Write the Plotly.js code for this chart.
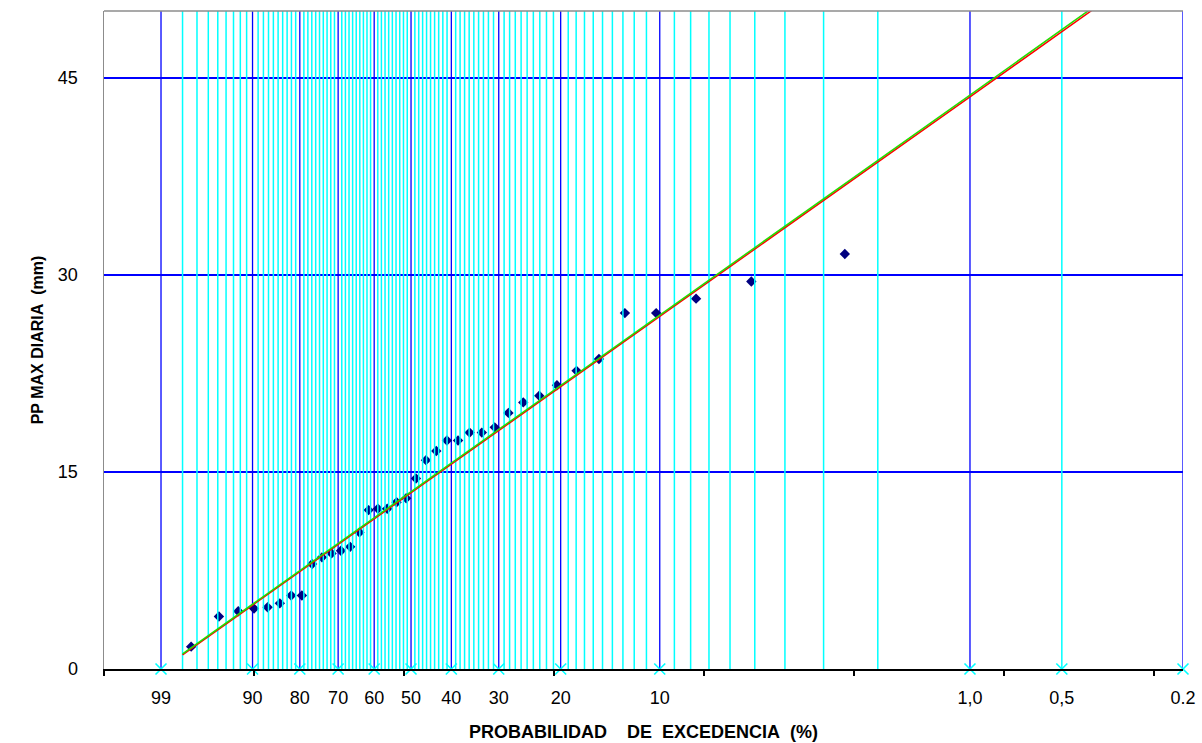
<!DOCTYPE html>
<html>
<head>
<meta charset="utf-8">
<script src="https://cdn.plot.ly/plotly-3.0.1.min.js"></script>
<style>html,body{margin:0;padding:0;background:#fff;}#chart{width:1202px;height:743px;}</style>
</head>
<body>
<div id="chart"></div>
<script>
const exceedProb = [2.56, 5.13, 7.69, 10.26, 12.82, 15.38, 17.95, 20.51, 23.08, 25.64,
  28.21, 30.77, 33.33, 35.90, 38.46, 41.03, 43.59, 46.15, 48.72, 51.28,
  53.85, 56.41, 58.97, 61.54, 64.10, 66.67, 69.23, 71.79, 74.36, 76.92,
  79.49, 82.05, 84.62, 87.18, 89.74, 92.31, 94.87, 97.44];
// PP MAX DIARIA (mm)
const ppMax = [31.6, 29.5, 28.2, 27.1, 27.1, 23.6, 22.7, 21.6, 20.8, 20.3,
  19.5, 18.4, 18.0, 18.0, 17.4, 17.4, 16.6, 15.9, 14.5, 13.0,
  12.7, 12.2, 12.2, 12.1, 10.4, 9.3, 9.0, 8.8, 8.5, 8.0,
  5.6, 5.6, 5.0, 4.7, 4.6, 4.4, 4.0, 1.7];

// Fitted lines (values at given exceedance probabilities)
const fitProb = [98, 50, 10, 1, 0.3];
const fitGreen = [1.15, 13.52, 26.95, 43.70, 52.35];
const fitRed = [1.08, 13.44, 26.85, 43.56, 52.18];

// Tick labels on the probability axis
const labelProb = [99, 90, 80, 70, 60, 50, 40, 30, 20, 10, 1, 0.5, 0.2];
const labelText = ['99', '90', '80', '70', '60', '50', '40', '30', '20', '10', '1,0', '0,5', '0.2'];

// Probability paper grid lines
const majorGridProb = [99, 90, 80, 70, 60, 50, 40, 30, 20, 10, 1, 0.2];
const minorGridProb = [];
for (let p = 98; p >= 2; p--) { if (p % 10 !== 0) minorGridProb.push(p); }
minorGridProb.push(0.5);

// Gumbel reduced variate for exceedance probability (%)
const gum = p => -Math.log(-Math.log(1 - p / 100));

const yMax = 50.1;
const xRange = [-1.959, gum(0.2)];

function vlines(probs) {
  const xs = [], ys = [];
  probs.forEach(p => { const g = gum(p); xs.push(g, g, null); ys.push(0, yMax, null); });
  return {x: xs, y: ys};
}
const maj = vlines(majorGridProb);
const mnr = vlines(minorGridProb);

const font = 'Liberation Sans, Arial, sans-serif';

const traces = [
  {x: maj.x, y: maj.y, mode: 'lines', line: {color: '#0000FF', width: 1.3}, hoverinfo: 'skip', showlegend: false},
  {x: exceedProb.map(gum), y: ppMax, mode: 'markers', type: 'scatter',
   marker: {symbol: 'diamond', size: 8, color: '#000080'}, showlegend: false},
  {x: mnr.x, y: mnr.y, mode: 'lines', line: {color: '#00FFFF', width: 1.5}, hoverinfo: 'skip', showlegend: false},
  {x: fitProb.map(gum), y: fitRed, mode: 'lines', line: {color: '#FF0000', width: 1.5}, showlegend: false},
  {x: fitProb.map(gum), y: fitGreen, mode: 'lines', line: {color: '#22DD00', width: 1.5}, showlegend: false},
  {x: labelProb.map(gum), y: labelProb.map(() => 0), xaxis: 'x2', mode: 'markers', cliponaxis: false,
   marker: {symbol: 'x-thin', size: 11, line: {color: '#00FFFF', width: 1.6}}, showlegend: false}
];

const layout = {
  width: 1202, height: 743,
  margin: {l: 104, r: 19, t: 11, b: 74},
  paper_bgcolor: '#fff', plot_bgcolor: '#fff',
  showlegend: false,
  font: {family: font, size: 18, color: '#000'},
  xaxis: {
    range: xRange, showgrid: false, zeroline: false,
    showline: true, linecolor: '#000', linewidth: 2,
    ticks: 'outside', ticklen: 5, tickwidth: 1.5, tickcolor: '#000',
    tick0: -1.959, dtick: 1.13636, showticklabels: false
  },
  xaxis2: {
    overlaying: 'x', anchor: 'y', side: 'bottom', range: xRange,
    showgrid: false, zeroline: false, showline: false, ticks: '',
    tickmode: 'array', tickvals: labelProb.map(gum), ticktext: labelText,
    tickfont: {family: font, size: 18, color: '#000'}, ticklabelstandoff: 16,
    title: {text: '<b>PROBABILIDAD\u00a0\u00a0\u00a0 DE\u00a0 EXCEDENCIA\u00a0 (%)</b>', font: {family: font, size: 18, color: '#000'}, standoff: 18}
  },
  yaxis: {
    range: [0, yMax], tickmode: 'array', tickvals: [0, 15, 30, 45],
    showgrid: true, gridcolor: '#0000FF', gridwidth: 1.3, zeroline: false,
    showline: true, linecolor: '#8c8c8c', linewidth: 1.5, ticks: '',
    tickfont: {family: font, size: 18, color: '#000'}, ticklabelstandoff: 21,
    title: {text: '<b>PP MAX DIARIA\u00a0 (mm)</b>', font: {family: font, size: 16, color: '#000'}, standoff: 10}
  },
  shapes: [
    {type: 'line', xref: 'paper', yref: 'paper', x0: 0, x1: 1, y0: 1, y1: 1, line: {color: '#8c8c8c', width: 1.5}}
  ]
};

Plotly.newPlot('chart', traces, layout, {staticPlot: true, displayModeBar: false});
</script>
</body>
</html>
